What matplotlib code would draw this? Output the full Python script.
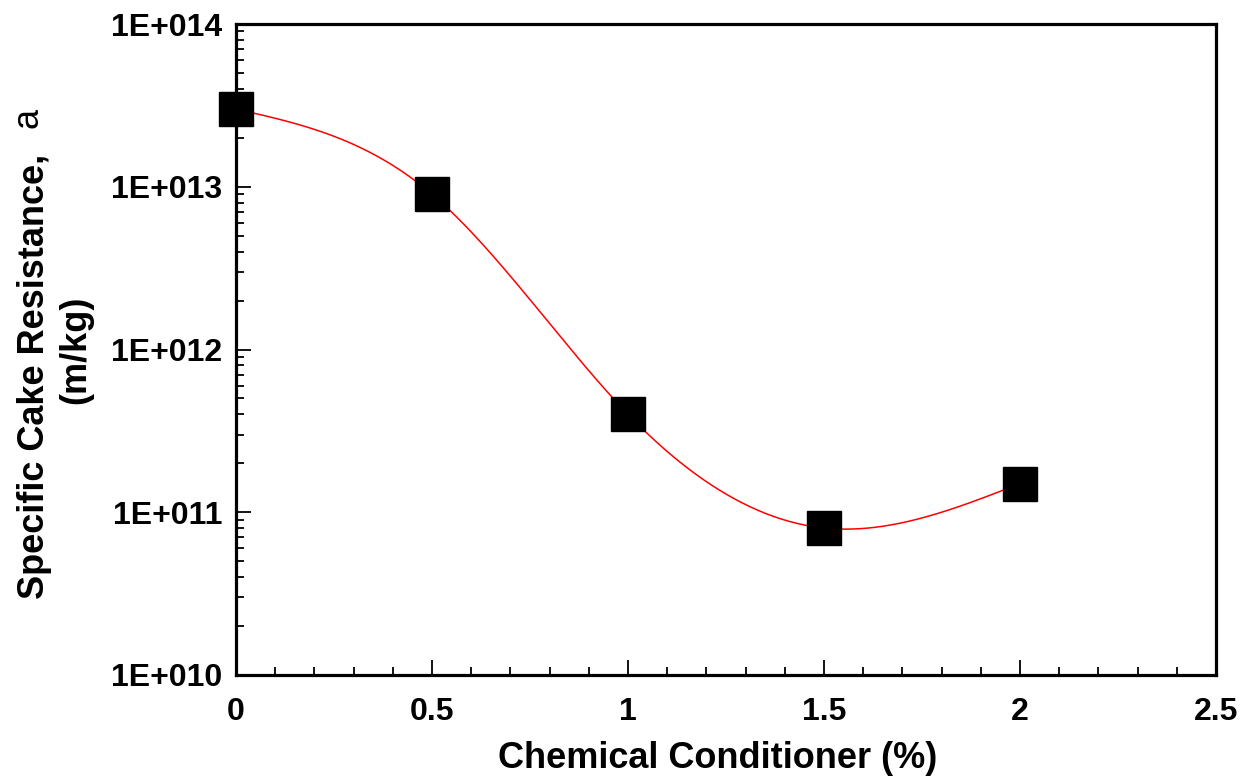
import numpy as np
import matplotlib.pyplot as plt
from matplotlib.ticker import FixedLocator, MultipleLocator, LogLocator, NullFormatter

# chemical conditioner dose (%) and specific cake resistance (m/kg)
dose = [0.0, 0.5, 1.0, 1.5, 2.0]
resistance = [3.0e13, 9.0e12, 4.0e11, 8.0e10, 1.5e11]

x_ticks = [0, 0.5, 1, 1.5, 2, 2.5]
x_tick_labels = ['0', '0.5', '1', '1.5', '2', '2.5']
y_ticks = [1e10, 1e11, 1e12, 1e13, 1e14]
y_tick_labels = ['1E+010', '1E+011', '1E+012', '1E+013', '1E+014']


def natural_spline(x, y, xs):
    # natural cubic spline through (x, y), evaluated at xs
    x = np.asarray(x, float)
    y = np.asarray(y, float)
    n = len(x)
    h = np.diff(x)
    A = np.zeros((n, n))
    b = np.zeros(n)
    A[0, 0] = 1
    A[-1, -1] = 1
    for i in range(1, n - 1):
        A[i, i - 1] = h[i - 1]
        A[i, i] = 2 * (h[i - 1] + h[i])
        A[i, i + 1] = h[i]
        b[i] = 3 * ((y[i + 1] - y[i]) / h[i] - (y[i] - y[i - 1]) / h[i - 1])
    c = np.linalg.solve(A, b)
    out = np.empty_like(xs)
    for k, xv in enumerate(xs):
        i = min(max(np.searchsorted(x, xv) - 1, 0), n - 2)
        dx = xv - x[i]
        bi = (y[i + 1] - y[i]) / h[i] - h[i] * (2 * c[i] + c[i + 1]) / 3
        di = (c[i + 1] - c[i]) / (3 * h[i])
        out[k] = y[i] + bi * dx + c[i] * dx ** 2 + di * dx ** 3
    return out


plt.rcParams['font.family'] = ['Liberation Sans', 'DejaVu Sans']

fig = plt.figure(figsize=(12.42, 7.78), dpi=100)
ax = fig.add_axes([236 / 1242, 1 - 675 / 778, 980 / 1242, 651 / 778])

# smooth curve drawn in log space through the measured points
xs = np.linspace(dose[0], dose[-1], 300)
ys = 10 ** natural_spline(dose, np.log10(resistance), xs)
ax.plot(xs, ys, color='red', linewidth=1.1, zorder=2)
ax.plot(dose, resistance, linestyle='none', marker='s', markersize=24,
        color='black', zorder=3, clip_on=False)

ax.set_yscale('log')
ax.set_xlim(0, 2.5)
ax.set_ylim(1e10, 1e14)

ax.xaxis.set_major_locator(FixedLocator(x_ticks))
ax.set_xticklabels(x_tick_labels)
ax.xaxis.set_minor_locator(MultipleLocator(0.1))
ax.yaxis.set_major_locator(FixedLocator(y_ticks))
ax.set_yticklabels(y_tick_labels)
ax.yaxis.set_minor_locator(LogLocator(base=10, subs=np.arange(2, 10)))
ax.yaxis.set_minor_formatter(NullFormatter())

for side in ['left', 'right', 'top', 'bottom']:
    ax.spines[side].set_linewidth(2.3)

ax.tick_params(which='both', direction='in', top=False, right=False, width=1.3)
ax.tick_params(which='major', length=11)
ax.tick_params(which='minor', length=6)
ax.tick_params(axis='x', which='major', pad=16, labelsize=23)
ax.tick_params(axis='y', which='major', pad=10, labelsize=23)
for lab in ax.get_xticklabels() + ax.get_yticklabels():
    lab.set_fontweight('bold')

fig.text(718 / 1242, 1 - 758 / 778, 'Chemical Conditioner (%)', fontsize=26,
         fontweight='bold', ha='center', va='center')
fig.text(35 / 1242, 1 - 376 / 778, 'Specific Cake Resistance,', fontsize=26,
         fontweight='bold', rotation=90, ha='center', va='center')
fig.text(28 / 1242, 1 - 118 / 778, 'a', fontsize=26, rotation=90,
         ha='center', va='center')
fig.text(76 / 1242, 1 - 350 / 778, '(m/kg)', fontsize=26,
         fontweight='bold', rotation=90, ha='center', va='center')

fig.savefig('out.png', dpi=100)
